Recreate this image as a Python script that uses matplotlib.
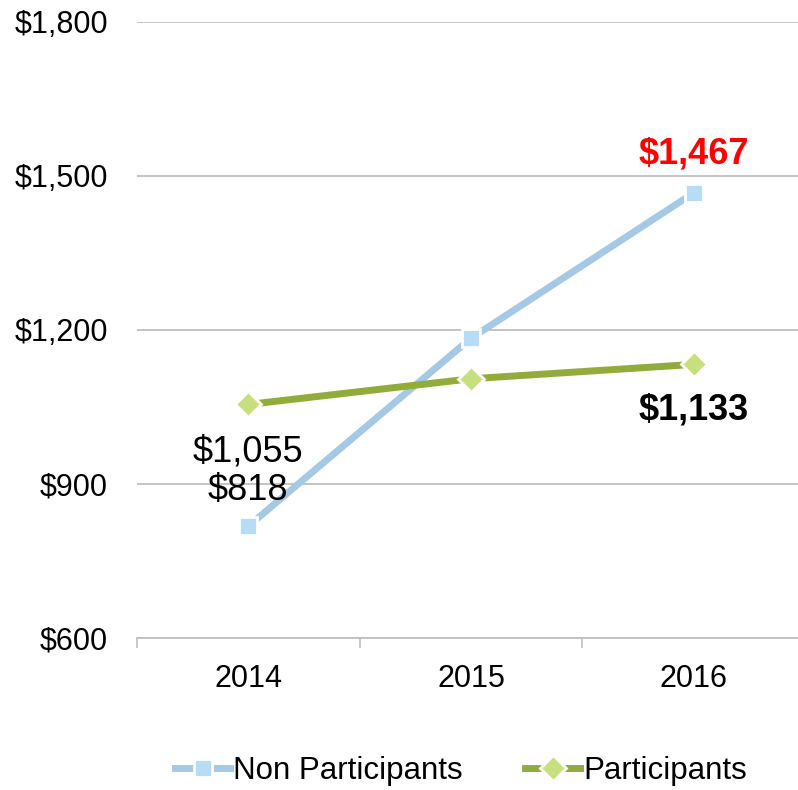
import numpy as np
import matplotlib.pyplot as plt

plt.rcParams['font.family'] = ['Liberation Sans', 'DejaVu Sans']

years = ['2014', '2015', '2016']
non_participants = [818, 1184, 1467]
participants = [1055, 1105, 1133]
y_ticks = [600, 900, 1200, 1500, 1800]

BLUE_LINE = '#A5C8E4'
BLUE_FILL = '#B7DDF6'
GREEN_LINE = '#92AC3C'
GREEN_FILL = '#C8DF80'
GRID = '#BFBFBF'

fig = plt.figure(figsize=(7.98, 7.90), dpi=100)
ax = fig.add_axes([137 / 798, 1 - 638 / 790, 668 / 798, 616 / 790])

x = np.arange(len(years))
ax.plot(x, non_participants, color=BLUE_LINE, linewidth=5, marker='s',
        markersize=13, markerfacecolor=BLUE_FILL, markeredgecolor='white',
        markeredgewidth=2, label='Non Participants', zorder=3)
ax.plot(x, participants, color=GREEN_LINE, linewidth=5, marker='D',
        markersize=13, markerfacecolor=GREEN_FILL, markeredgecolor='white',
        markeredgewidth=2, label='Participants', zorder=3)

ax.set_xlim(-0.5, 2.5)
ax.set_ylim(600, 1800)
ax.set_yticks(y_ticks)
ax.set_yticklabels(['${:,}'.format(v) for v in y_ticks])
ax.set_xticks(x)
ax.set_xticklabels(years)
ax.set_xticks([-0.5, 0.5, 1.5, 2.5], minor=True)

ax.tick_params(axis='y', length=0, pad=21, labelsize=22)
ax.tick_params(axis='x', which='major', length=0, pad=19, labelsize=22)
ax.tick_params(axis='x', which='minor', length=7, width=1.2, color=GRID)

ax.grid(axis='y', color=GRID, linewidth=1.3)
ax.set_axisbelow(True)
for side in ['left', 'right', 'top']:
    ax.spines[side].set_visible(False)
ax.spines['bottom'].set_color(GRID)
ax.spines['bottom'].set_linewidth(1.3)

# data labels
ax.text(0, participants[0] - 92, '${:,}'.format(participants[0]), ha='center',
        va='center', fontsize=26)
ax.text(0, non_participants[0] + 70, '${:,}'.format(non_participants[0]), ha='center',
        va='center', fontsize=26)
ax.text(2, non_participants[2] + 75, '${:,}'.format(non_participants[2]), ha='center',
        va='center', fontsize=26, fontweight='bold', color='#FF0000')
ax.text(2, participants[2] - 88, '${:,}'.format(participants[2]), ha='center',
        va='center', fontsize=26, fontweight='bold', color='black')

fig.legend(loc='center', bbox_to_anchor=(0.578, 0.024), ncol=2, frameon=False,
           fontsize=22.5, handlelength=1.75, handletextpad=0.1, columnspacing=2.0)

fig.savefig('out.png', dpi=100)
